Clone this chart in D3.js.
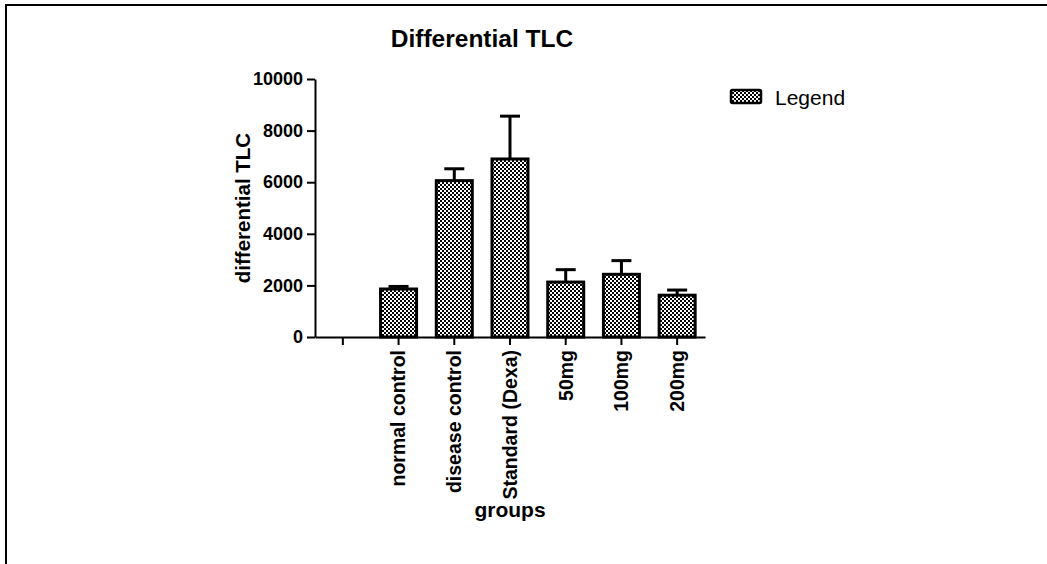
<!DOCTYPE html>
<html>
<head>
<meta charset="utf-8">
<script src="https://cdn.jsdelivr.net/npm/d3@7"></script>
<style>
  body { margin: 0; background: #fff; }
  svg { display: block; font-family: "Liberation Sans", Arial, sans-serif; }
</style>
</head>
<body>
<div id="chart"></div>
<script>
// data
const groups = ["", "normal control", "disease control", "Standard (Dexa)", "50mg", "100mg", "200mg"];
const means = [null, 1860, 6060, 6900, 2130, 2430, 1620];
const upper = [null, 1960, 6520, 8560, 2610, 2960, 1820];
const yTicks = [0, 2000, 4000, 6000, 8000, 10000];

const W = 1047, H = 564;

const svg = d3.select("#chart").append("svg")
    .attr("width", W)
    .attr("height", H);

// checker pattern used for the bars
const defs = svg.append("defs");
const pat = defs.append("pattern")
    .attr("id", "checker")
    .attr("patternUnits", "userSpaceOnUse")
    .attr("width", 4)
    .attr("height", 4);
pat.append("rect").attr("width", 4).attr("height", 4).attr("fill", "#fff");
pat.append("rect").attr("width", 2).attr("height", 2).attr("fill", "#000");
pat.append("rect").attr("x", 2).attr("y", 2).attr("width", 2).attr("height", 2).attr("fill", "#000");

// frame (top and left edges only visible)
svg.append("path")
    .attr("d", `M6,${H} L6,5 L${W},5`)
    .attr("fill", "none")
    .attr("stroke", "#000")
    .attr("stroke-width", 2);

// scales
const x = d3.scaleBand()
    .domain(groups)
    .range([315, 705])
    .paddingInner(0.3)
    .paddingOuter(0.15);

const y = d3.scaleLinear()
    .domain([0, 10000])
    .range([337, 79]);

// y axis
const yAxis = svg.append("g")
    .attr("transform", "translate(315,0)")
    .call(d3.axisLeft(y).tickValues(yTicks).tickFormat(d3.format("d"))
        .tickSize(8).tickPadding(4).tickSizeOuter(0));
yAxis.select(".domain").attr("stroke-width", 2);
yAxis.selectAll(".tick line").attr("stroke-width", 2);
yAxis.selectAll("text")
    .attr("font-size", 18)
    .attr("font-weight", "bold")
    .attr("fill", "#000")
    .attr("font-family", "Liberation Sans, Arial, sans-serif");

// x axis
const xAxis = svg.append("g")
    .attr("transform", "translate(0,337)")
    .call(d3.axisBottom(x).tickSize(8).tickPadding(6).tickSizeOuter(0));
xAxis.select(".domain").attr("stroke-width", 2);
xAxis.selectAll(".tick line").attr("stroke-width", 2);
xAxis.selectAll("text")
    .attr("font-size", 19.5)
    .attr("font-weight", "bold")
    .attr("fill", "#000")
    .attr("font-family", "Liberation Sans, Arial, sans-serif")
    .attr("text-anchor", "end")
    .attr("transform", "rotate(-90)")
    .attr("x", -13)
    .attr("y", 0)
    .attr("dy", "0.35em");

const barData = groups.map((g, i) => ({ g, m: means[i], u: upper[i] })).filter(d => d.m !== null);

// error bars (upper only)
const err = svg.append("g");
err.selectAll("line.stem")
    .data(barData)
    .join("line")
    .attr("class", "stem")
    .attr("x1", d => x(d.g) + x.bandwidth() / 2)
    .attr("x2", d => x(d.g) + x.bandwidth() / 2)
    .attr("y1", d => y(d.m))
    .attr("y2", d => y(d.u))
    .attr("stroke", "#000")
    .attr("stroke-width", 3);
err.selectAll("line.cap")
    .data(barData)
    .join("line")
    .attr("class", "cap")
    .attr("x1", d => x(d.g) + x.bandwidth() / 2 - 10)
    .attr("x2", d => x(d.g) + x.bandwidth() / 2 + 10)
    .attr("y1", d => y(d.u))
    .attr("y2", d => y(d.u))
    .attr("stroke", "#000")
    .attr("stroke-width", 3);

// bars
svg.append("g")
    .selectAll("rect")
    .data(barData)
    .join("rect")
    .attr("x", d => x(d.g) + 1.5)
    .attr("width", x.bandwidth() - 3)
    .attr("y", d => y(d.m))
    .attr("height", d => y(0) - y(d.m))
    .attr("fill", "url(#checker)")
    .attr("stroke", "#000")
    .attr("stroke-width", 3);

// title
svg.append("text")
    .attr("x", 482)
    .attr("y", 47)
    .attr("text-anchor", "middle")
    .attr("font-size", 24.5)
    .attr("font-weight", "bold")
    .text("Differential TLC");

// axis titles
svg.append("text")
    .attr("transform", "translate(250,208) rotate(-90)")
    .attr("text-anchor", "middle")
    .attr("font-size", 20.5)
    .attr("font-weight", "bold")
    .text("differential TLC");

svg.append("text")
    .attr("x", 510)
    .attr("y", 517)
    .attr("text-anchor", "middle")
    .attr("font-size", 21)
    .attr("font-weight", "bold")
    .text("groups");

// legend
svg.append("rect")
    .attr("x", 731)
    .attr("y", 90)
    .attr("width", 30)
    .attr("height", 13)
    .attr("rx", 1.5)
    .attr("fill", "url(#checker)")
    .attr("stroke", "#000")
    .attr("stroke-width", 2.5);
svg.append("text")
    .attr("x", 775)
    .attr("y", 105)
    .attr("font-size", 21)
    .text("Legend");
</script>
</body>
</html>
